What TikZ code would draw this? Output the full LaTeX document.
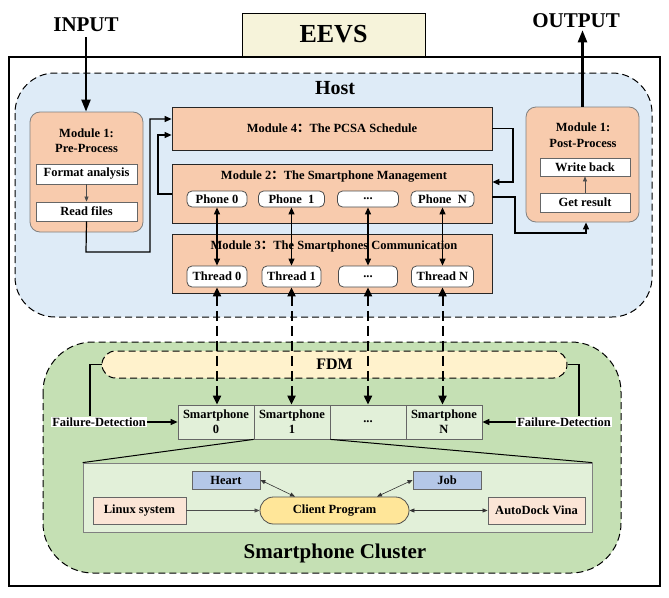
\documentclass[tikz,border=0pt]{standalone}
\usepackage{fontspec}
\setmainfont{Liberation Serif}
\newfontfamily\cjkf{Noto Sans CJK SC}
\usetikzlibrary{arrows.meta}
\definecolor{peach}{HTML}{F8CBAD}
\definecolor{hostfill}{HTML}{DEEBF7}
\definecolor{cgreen}{HTML}{C5E0B4}
\definecolor{lgreen}{HTML}{E2F0D9}
\definecolor{fdmfill}{HTML}{FFF2CC}
\definecolor{eevsfill}{HTML}{F6F3DA}
\definecolor{hjblue}{HTML}{B4C7E7}
\definecolor{linuxfill}{HTML}{FBE5D6}
\definecolor{clientfill}{HTML}{FFE699}
\newcommand{\fcolon}{{\cjkf ：}}
\tikzset{
  every node/.style={font=\bfseries\fontsize{12.5}{15}\selectfont, inner sep=0pt},
  bigtext/.style={font=\bfseries\fontsize{21}{24}\selectfont},
  modbox/.style={draw=black!85, fill=peach, line width=0.8pt},
  procbox/.style={draw=black!50, fill=peach, rounded corners=10pt, line width=0.8pt},
  whitebox/.style={draw=black!60, fill=white, line width=0.8pt},
  pillbox/.style={draw=black!70, fill=white, rounded corners=5pt, line width=0.8pt, minimum height=16pt},
  threadbox/.style={draw=black!70, fill=white, rounded corners=5pt, line width=0.8pt, minimum height=21pt},
  spbox/.style={draw=black!60, fill=lgreen, line width=0.8pt, minimum width=76pt, minimum height=34pt, align=center},
  region/.style={draw=black, line width=1pt, dash pattern=on 7pt off 4pt},
  conn/.style={line width=1.2pt, -{Triangle[length=7pt,width=6pt]}},
  dblconn/.style={line width=1.1pt, {Triangle[length=7pt,width=6pt]}-{Triangle[length=7pt,width=6pt]}},
  dasharr/.style={line width=2pt, dash pattern=on 10pt off 5pt, {Triangle[length=9pt,width=8pt]}-{Triangle[length=9pt,width=8pt]}},
  bigarr/.style={line width=2.2pt, -{Triangle[length=12pt,width=9pt]}},
  thinarr/.style={line width=0.6pt, draw=black!70, -{Triangle[length=5pt,width=4pt]}},
  thindbl/.style={line width=0.6pt, draw=black!80, {Triangle[length=5pt,width=4pt]}-{Triangle[length=5pt,width=4pt]}},
  smallbox/.style={draw=black!60, line width=0.8pt, minimum height=18pt, minimum width=68pt, fill=hjblue},
  sysbox/.style={draw=black!60, line width=0.8pt, minimum height=27pt, fill=linuxfill}
}
\begin{document}
\begin{tikzpicture}[x=1pt,y=-1pt]
\useasboundingbox (0,0) rectangle (669,597);
% EEVS title
\node[draw, line width=1pt, fill=eevsfill, minimum width=183pt, minimum height=43pt,
      font=\bfseries\fontsize{26}{28}\selectfont] (eevs) at (333.5,34.5) {EEVS};
% outer frame
\draw[line width=1.8pt] (9,57) rectangle (660,586);
% host region
\draw[region, fill=hostfill, rounded corners=40pt] (15,73) rectangle (652,317);
\node[bigtext, font=\bfseries\fontsize{20}{22}\selectfont] (host) at (335,88) {Host};
% pre-process
\node[procbox, minimum width=113pt, minimum height=120pt] (pre) at (86.5,172) {};
\node (pre1) at (86.5,133) {Module 1:};
\node (pre2) at (86.5,148) {Pre-Process};
\node[whitebox, minimum width=101pt, minimum height=20pt] (fa) at (86.5,174) {Format analysis};
\node[whitebox, minimum width=101pt, minimum height=19pt] (rf) at (86.5,211.5) {Read files};
\draw[thinarr] (fa) -- (rf);
% modules
\node[modbox, minimum width=320pt, minimum height=43pt] (m4) at (332,128.5) {Module 4\fcolon The PCSA Schedule};
\node[modbox, minimum width=320pt, minimum height=59pt] (m2) at (332,193.5) {};
\node (m2t) at (334,177) {Module 2\fcolon The Smartphone Management};
\node[modbox, minimum width=320pt, minimum height=59pt] (m3) at (332,263.5) {};
\node (m3t) at (334,246) {Module 3\fcolon The Smartphones Communication};
% phones
\node[pillbox, minimum width=60pt] (p0) at (217,199) {Phone 0};
\node[pillbox, minimum width=66pt] (p1) at (291.5,199) {Phone\ \ 1};
\node[pillbox, minimum width=61pt] (pd) at (368,199) {...};
\node[pillbox, minimum width=63pt] (pN) at (442.5,199) {Phone\ \ N};
% threads
\node[threadbox, minimum width=60pt] (t0) at (217,276.5) {Thread 0};
\node[threadbox, minimum width=59pt] (t1) at (291.5,276.5) {Thread 1};
\node[threadbox, minimum width=59pt] (td) at (368,276.5) {...};
\node[threadbox, minimum width=62pt] (tN) at (442.5,276.5) {Thread N};
\foreach \a/\b in {p0/t0,p1/t1,pd/td,pN/tN}{
  \draw[dblconn] (\a.south) -- (\b.north);
}
% post-process
\node[procbox, minimum width=113pt, minimum height=115pt] (post) at (582.5,164.5) {};
\node (post1) at (583,127) {Module 1:};
\node (post2) at (583,143) {Post-Process};
\node[whitebox, minimum width=90pt, minimum height=18pt] (wb) at (585,167) {Write back};
\node[whitebox, minimum width=90pt, minimum height=19pt] (gr) at (585,202.5) {Get result};
\draw[thinarr] (gr) -- (wb);
% connectors in host
\draw[conn] (rf.south) -- (86,252) -- (150,252) -- (150,119) -- (m4.west |- 0,119);
\draw[conn] (m2.west |- 0,194) -- (158,194) -- (158,135) -- (m4.west |- 0,135);
\draw[conn] (m4.east) -- (513,128.5) -- (513,182) -- (m2.east |- 0,182);
\draw[conn] (m2.east |- 0,197) -- (515,197) -- (515,233) -- (586,233) -- (post.south -| 586,0);
% input / output
\node[bigtext] (inp) at (86,25) {INPUT};
\draw[bigarr] ([yshift=-5pt]inp.south) -- (pre.north -| 86,0);
\node[bigtext] (outp) at (576,21) {OUTPUT};
\draw[bigarr] (post.north) -- ([yshift=-2pt]post.north |- outp.south);
% smartphone cluster
\draw[region, fill=cgreen, rounded corners=50pt] (43,342) rectangle (621,573);
\node[region, fill=fdmfill, rounded corners=13.5pt, minimum width=465pt, minimum height=27pt,
      font=\bfseries\fontsize{16}{18}\selectfont] (fdm) at (334.5,364.5) {FDM};
\node[spbox] (s0) at (216,422) {Smartphone\\0};
\node[spbox] (s1) at (292,422) {Smartphone\\1};
\node[spbox] (sd) at (368,422) {...};
\node[spbox] (sN) at (444,422) {Smartphone\\N};
\foreach \t/\s in {t0/s0,t1/s1,td/sd,tN/sN}{
  \draw[dasharr] (\t.south) -- (\t.south |- \s.north);
}
\node[fill=white, inner sep=1pt] (fdl) at (99,422) {Failure-Detection};
\node[fill=white, inner sep=1pt] (fdr) at (564,422) {Failure-Detection};
\draw[line width=1.3pt] (fdm.west) -- (90,364.5) -- (fdl.north -| 90,0);
\draw[line width=1.3pt] (fdm.east) -- (579,364.5) -- (fdr.north -| 579,0);
\draw[conn] (fdl.east) -- (s0.west);
\draw[conn] (fdr.west) -- (sN.east);
% inner detail box
\node[draw=black!50, fill=lgreen, line width=0.8pt, minimum width=509pt, minimum height=69pt] (inner) at (337.5,497.5) {};
\draw[line width=1pt] (s1.south west) -- (inner.north west);
\draw[line width=1pt] (s1.south east) -- (inner.north east);
\node[smallbox] (heart) at (226,480) {Heart};
\node[smallbox] (job) at (447,480) {Job};
\node[sysbox, minimum width=93pt] (linux) at (139.5,510.5) {Linux system};
\node[sysbox, minimum width=97pt] (auto) at (536.5,510.5) {AutoDock Vina};
\node[draw=black!70, line width=0.8pt, fill=clientfill, rounded corners=13.5pt, minimum width=149pt, minimum height=27pt] (client) at (334.5,510.5) {Client Program};
\draw[thinarr] (linux) -- (client);
\draw[thindbl] (client) -- (auto);
\draw[thindbl] (heart.east) -- (client.north -| 295,0);
\draw[thindbl] (job.west) -- (client.north -| 377,0);
\node[bigtext] (clus) at (335,553) {Smartphone Cluster};
\end{tikzpicture}
\end{document}
